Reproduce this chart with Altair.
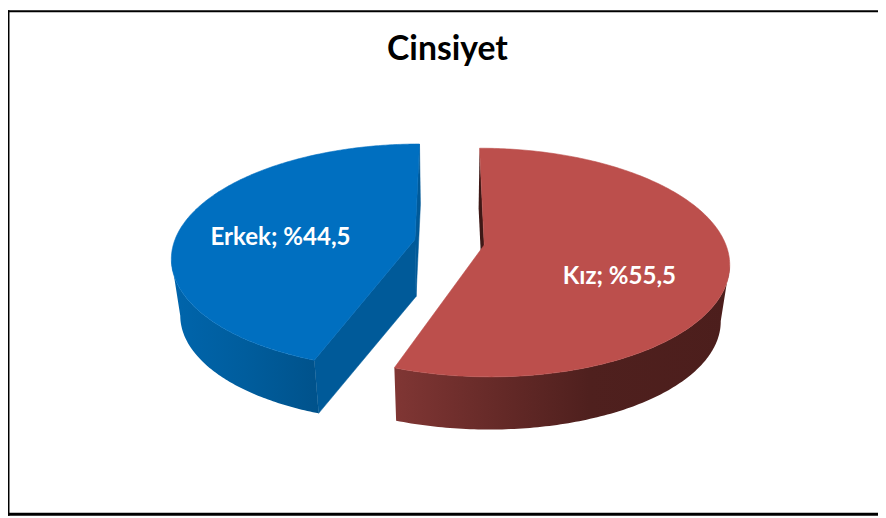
import math
import altair as alt

categories = ["Erkek", "Kız"]
shares = [44.5, 55.5]
labels = ["Erkek; %44,5", "Kız; %55,5"]
title_text = "Cinsiyet"

W, H = 878, 510
CX, CY = 453.5 - 8, 242 - 8
A, B, K = 243.0, 111.8, 0.153
EXPLODE = 0.146
DEPTH, SHRINK = 57.5, 0.968


def project(u, v, low=False):
    s = 1 / (1 - K * v)
    x, y = A * u * s, B * v * s
    if low:
        return [CX + x * SHRINK, CY + y * SHRINK + DEPTH]
    return [CX + x, CY + y]


def slice_geometry(start_deg, end_deg):
    mid = math.radians((start_deg + end_deg) / 2)
    u0, v0 = EXPLODE * math.sin(mid), -EXPLODE * math.cos(mid)
    n = 240
    angles = [math.radians(start_deg + (end_deg - start_deg) * i / n) for i in range(n + 1)]
    rim = [(u0 + math.sin(t), v0 - math.cos(t)) for t in angles]
    return u0, v0, rim


def shape(points, fill, stroke=None, stroke_width=0):
    ring = points + [points[0]]
    feature = {"type": "Feature", "properties": {}, "geometry": {"type": "Polygon", "coordinates": [ring]}}
    kwargs = {"stroke": stroke, "strokeWidth": stroke_width} if stroke else {"strokeWidth": 0}
    return alt.Chart(alt.Data(values=[feature], format=alt.DataFormat(type="json"))).mark_geoshape(
        fill=fill, **kwargs
    )


def gradient(stops):
    return alt.LinearGradient(
        gradient="linear", x1=0, y1=0, x2=1, y2=0,
        stops=[alt.GradientStop(offset=o, color=c) for o, c in stops],
    )


def face(u0, v0, rim):
    return [project(u0, v0)] + [project(u, v) for u, v in rim]


def radial(u0, v0, p):
    return [project(u0, v0), project(*p), project(*p, True), project(u0, v0, True)]


def front_wall(rim, tangent, tip):
    lo, hi = sorted((tangent, tip))
    part = rim[lo : hi + 1]
    return [project(u, v) for u, v in part] + [project(u, v, True) for u, v in reversed(part)]


kiz_deg = shares[1] / 100 * 360
ru, rv, red_rim = slice_geometry(0, kiz_deg)
bu, bv, blue_rim = slice_geometry(kiz_deg, 360)

red_tangent = max(range(len(red_rim)), key=lambda i: project(*red_rim[i])[0])
blue_tangent = min(range(len(blue_rim)), key=lambda i: project(*blue_rim[i])[0])

layers = [
    shape(radial(bu, bv, blue_rim[-1]), "#005A99", "#005A99", 0.5),
    shape(radial(bu, bv, blue_rim[0]), "#005A99", "#005A99", 0.5),
    shape(front_wall(blue_rim, blue_tangent, 0),
          gradient([(0, "#0065AC"), (0.5, "#005D9D"), (1, "#00528B")])),
    shape(face(bu, bv, blue_rim), "#006FC0", "#006FC0", 0.6),
    shape(radial(ru, rv, red_rim[0]), "#3E1816"),
    shape(front_wall(red_rim, red_tangent, len(red_rim) - 1),
          gradient([(0, "#803634"), (0.3, "#662A28"), (0.58, "#4F201E"), (1, "#4C1E1C")])),
    shape(face(ru, rv, red_rim), "#BC4F4C", "#BC4F4C", 0.6),
]

frame = alt.Data(values=[{"a": 1}])
frame_layers = [
    alt.Chart(frame).mark_rect(color="#000000").encode(x=alt.value(0), x2=alt.value(1.5), y=alt.value(0), y2=alt.value(H)),
    alt.Chart(frame).mark_rect(color="#000000").encode(x=alt.value(0), x2=alt.value(W), y=alt.value(0), y2=alt.value(2)),
    alt.Chart(frame).mark_rect(color="#000000").encode(x=alt.value(0), x2=alt.value(W), y=alt.value(H - 3), y2=alt.value(H)),
]


def text(content, x, y, size, color):
    return alt.Chart(alt.Data(values=[{"t": content}])).mark_text(
        font="Lato", fontWeight="bold", fontSize=size, color=color, align="center", baseline="middle"
    ).encode(text="t:N", x=alt.value(x), y=alt.value(y))


texts = [
    text(title_text, 451.5 - 8, 48 - 8, 34, "#000000"),
    text(labels[0], 283 - 8, 238 - 8, 24.3, "#FFFFFF"),
    text(labels[1], 625 - 8, 277 - 8, 24.3, "#FFFFFF"),
]

chart = alt.layer(*layers, *frame_layers, *texts).project(
    type="identity", scale=1, translate=[0, 0]
).properties(
    width=W, height=H, padding=0, background="#FFFFFF",
    autosize=alt.AutoSizeParams(type="none"),
).configure_view(stroke=None)

chart.save("out.html", embed_options={"renderer": "svg", "actions": False})
